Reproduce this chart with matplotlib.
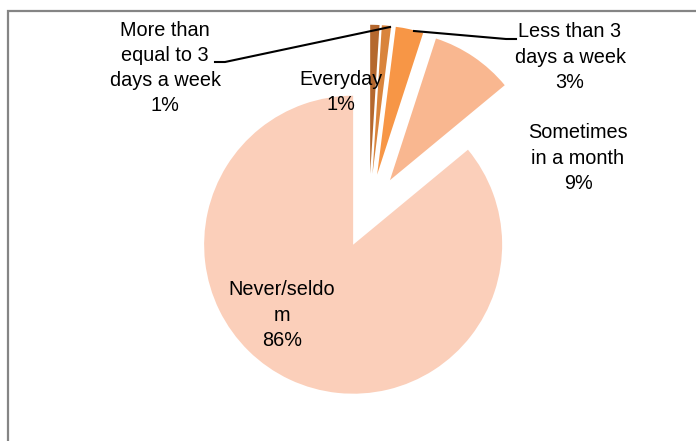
import matplotlib.pyplot as plt
from matplotlib.patches import Rectangle

# Frequency categories, clockwise from the top
categories = ['Everyday', 'More than\nequal to 3\ndays a week', 'Less than 3\ndays a week',
              'Sometimes\nin a month', 'Never/seldo\nm']
shares = [1, 1, 3, 9, 86]
colors = ['#B5682E', '#D9843C', '#F79646', '#F9B790', '#FBCFBA']

plt.rcParams['font.family'] = ['Liberation Sans', 'DejaVu Sans']

fig = plt.figure(figsize=(6.96, 4.41), dpi=100)
ax = fig.add_axes([0, 0, 1, 1])

ax.pie(shares, colors=colors, startangle=90, counterclock=False,
       explode=[0.25] * len(shares), radius=1, center=(0, 0))

# pie radius 149 px, centre at (369, 211) px from top-left
r = 149.0
cx, cy = 369.0, 211.0
ax.set_aspect('auto')
ax.set_xlim(-cx / r, (696 - cx) / r)
ax.set_ylim(-(441 - cy) / r, cy / r)
ax.axis('off')


def px(x, y):
    return ((x - cx) / r, (cy - y) / r)


labels = [f'{c}\n{v}%' for c, v in zip(categories, shares)]
label_pos = [(341, 92), (165, 68), (570, 57), (578, 158), (282, 315)]
for text, (x, y) in zip(labels, label_pos):
    ax.text(*px(x, y), text, ha='center', va='center', fontsize=14.3,
            linespacing=1.42, color='black')

# leader lines
ax.plot(*zip(px(215, 62), px(225, 62), px(390, 27)), color='black', lw=1.5)
ax.plot(*zip(px(414, 31), px(506, 39), px(516, 39)), color='black', lw=1.5)

# chart frame (runs past the right and bottom edges)
fig.patches.append(Rectangle((8 / 696, -0.1), 1.1, 1.1 - 11 / 441, transform=fig.transFigure,
                             fill=False, edgecolor='#858585', lw=1.6))

fig.savefig('out.png', dpi=100)
